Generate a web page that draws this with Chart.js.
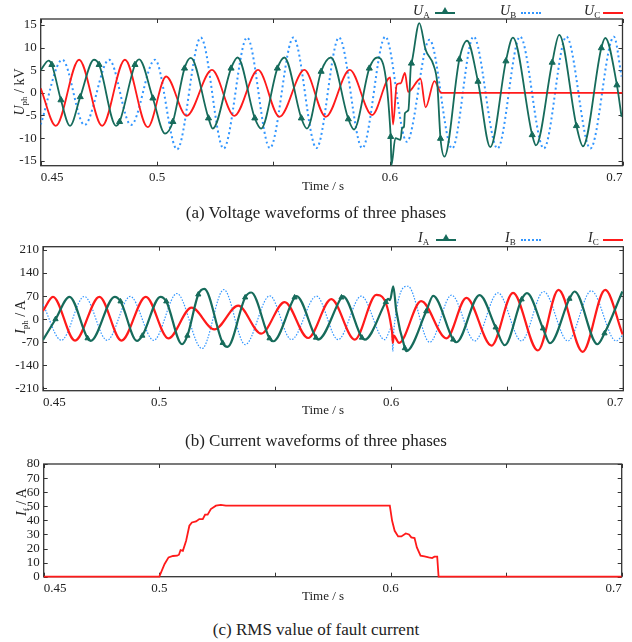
<!DOCTYPE html>
<html>
<head>
<meta charset="utf-8">
<script src="https://cdn.jsdelivr.net/npm/chart.js@4.4.1/dist/chart.umd.min.js"></script>
<style>
body{margin:0;background:#fff;}
#wrap{position:relative;width:632px;height:642px;font-family:'Liberation Serif','Times New Roman',serif;color:#222;overflow:hidden;}
canvas{position:absolute;left:0;}
.t{position:absolute;white-space:nowrap;line-height:16px;}
.t sub{font-size:9px;vertical-align:-3px;}
.cap{position:absolute;left:0;width:632px;text-align:center;font-size:17px;}
.yt{position:absolute;width:100px;height:16px;text-align:center;font-size:14px;line-height:16px;transform:rotate(-90deg);}
.yt sub{font-size:9px;vertical-align:-3px;}
.ln{position:absolute;height:0;}
.tri{position:absolute;width:0;height:0;border-left:4px solid transparent;border-right:4px solid transparent;border-bottom:7px solid #166b5b;}
</style>
</head>
<body>
<div id="wrap">
  <canvas id="ca" width="632" height="200" style="top:0"></canvas>
  <canvas id="cb" width="632" height="200" style="top:225px"></canvas>
  <canvas id="cc" width="632" height="160" style="top:450px"></canvas>

  <!-- legend (a) -->
  <div class="t" style="left:413px;top:3px;font-size:14px"><i>U</i><sub>A</sub></div>
  <div class="ln" style="left:435px;top:12px;width:20px;border-top:2px solid #166b5b"></div>
  <div class="tri" style="left:441px;top:7px"></div>
  <div class="t" style="left:500px;top:3px;font-size:14px"><i>U</i><sub>B</sub></div>
  <div class="ln" style="left:521px;top:12px;width:20px;border-top:2px dotted #3296ff"></div>
  <div class="t" style="left:584px;top:3px;font-size:14px"><i>U</i><sub>C</sub></div>
  <div class="ln" style="left:603px;top:12px;width:20px;border-top:2px solid #ff1a1a"></div>

  <!-- legend (b) -->
  <div class="t" style="left:418px;top:230px;font-size:14px"><i>I</i><sub>A</sub></div>
  <div class="ln" style="left:436px;top:239px;width:20px;border-top:2px solid #166b5b"></div>
  <div class="tri" style="left:442px;top:234px"></div>
  <div class="t" style="left:505px;top:230px;font-size:14px"><i>I</i><sub>B</sub></div>
  <div class="ln" style="left:521px;top:239px;width:20px;border-top:2px dotted #3296ff"></div>
  <div class="t" style="left:588px;top:230px;font-size:14px"><i>I</i><sub>C</sub></div>
  <div class="ln" style="left:603px;top:239px;width:20px;border-top:2px solid #ff1a1a"></div>

  <!-- axis titles -->
  <div class="yt" style="left:-30px;top:84px"><i>U</i><sub>ph</sub> / kV</div>
  <div class="yt" style="left:-29px;top:309px"><i>I</i><sub>ph</sub> / A</div>
  <div class="yt" style="left:-28px;top:494px"><i>I</i><sub>f</sub> / A</div>
  <div class="t" style="left:302px;top:178px;font-size:13px">Time / s</div>
  <div class="t" style="left:302px;top:402px;font-size:13px">Time / s</div>
  <div class="t" style="left:302px;top:588px;font-size:13px">Time / s</div>

  <!-- captions -->
  <div class="cap" style="top:203px">(a) Voltage waveforms of three phases</div>
  <div class="cap" style="top:431px">(b) Current waveforms of three phases</div>
  <div class="cap" style="top:620px">(c) RMS value of fault current</div>
</div>

<script>
// time axis
var xTickVals = [0.45, 0.5, 0.55, 0.6, 0.65, 0.7];
var xTickText = ['0.45', '0.5', '', '0.6', '', '0.7'];

// (a) phase voltages, kV
var uTicks = [-15, -10, -5, 0, 5, 10, 15];
var uaT = [0.4500,0.4534,0.4626,0.4729,0.4824,0.4923,0.5034,0.5145,0.5239,0.5346,0.5447,0.5547,0.5644,0.5747,0.5846,0.5946,0.6007,0.6024,0.6046,0.6053,0.6061,0.6065,0.6080,0.6091,0.6127,0.6154,0.6189,0.6204,0.6235,0.6332,0.6432,0.6529,0.6628,0.6728,0.6830,0.6926,0.6996];
var uaV = [5.0,7.1,-7.3,7.3,-7.3,7.4,-9.0,7.7,-7.9,7.8,-7.9,7.8,-7.9,7.8,-8.1,7.8,-16.0,-10.0,-10.4,-7.8,-7.5,-4.5,-3.8,6.2,15.4,9.5,6.0,2.1,-14.1,11.5,-12.0,12.2,-11.6,12.8,-11.8,12.1,-5.3];
var uaMkT = [0.4548,0.4587,0.4670,0.4751,0.4839,0.4905,0.4982,0.5068,0.5118,0.5221,0.5318,0.5420,0.5517,0.5620,0.5705,0.5822,0.5912,0.6004,0.6093,0.6218,0.6299,0.6379,0.6499,0.6612,0.6698,0.6802,0.6909,0.6976];
var uaMkV = [6.2,-1.6,-0.9,6.2,-6.4,6.2,-1.2,-6.4,5.4,-5.6,5.4,-5.6,5.4,-5.6,4.7,-5.8,5.4,-9.7,6.5,-10.1,7.4,2.5,7.0,-9.3,6.7,-7.3,9.9,1.7];
var ubT = [0.4500,0.4593,0.4688,0.4794,0.4888,0.4991,0.5086,0.5188,0.5286,0.5387,0.5485,0.5586,0.5685,0.5782,0.5882,0.5981,0.6073,0.6171,0.6268,0.6360,0.6463,0.6560,0.6662,0.6759,0.6862,0.6963,0.6996];
var ubV = [-7.0,7.3,-7.1,7.3,-7.1,7.3,-12.5,12.2,-12.3,12.2,-12.2,12.2,-12.2,12.2,-12.2,12.4,-10.8,11.7,-12.3,12.4,-12.3,12.4,-12.3,12.4,-12.3,12.4,3.6];
var ucT = [0.4500,0.4565,0.4665,0.4764,0.4862,0.4960,0.5039,0.5127,0.5236,0.5332,0.5434,0.5526,0.5633,0.5725,0.5828,0.5924,0.6002,0.6014,0.6030,0.6047,0.6065,0.6079,0.6132,0.6154,0.6192,0.6221,0.7000];
var ucV = [1.0,-7.3,7.3,-7.3,7.3,-7.6,3.6,-5.1,5.05,-5.1,5.05,-5.3,5.05,-5.3,5.05,-4.9,3.4,-7.0,1.8,2.1,4.4,0.2,3.1,-3.2,2.6,0,0];

// (b) phase currents, A
var iTicks = [-210, -140, -70, 0, 70, 140, 210];
var iaT = [0.4500,0.4614,0.4705,0.4809,0.4905,0.5006,0.5099,0.5195,0.5295,0.5397,0.5492,0.5592,0.5685,0.5792,0.5886,0.5986,0.5995,0.6009,0.6022,0.6065,0.6181,0.6281,0.6381,0.6489,0.6585,0.6684,0.6790,0.6889,0.6996];
var iaV = [-63,68,-66,68,-66,68,-76,92,-84,81,-67,70,-62,70,-62,62,58,100,25,-97,71,-70,73,-79,79,-73,84,-76,84];
var iaMkT = [0.4554,0.4692,0.4834,0.4928,0.5031,0.5122,0.5169,0.5274,0.5371,0.5476,0.5584,0.5676,0.5786,0.5874,0.5977,0.6059,0.6151,0.6267,0.6450,0.6562,0.6654,0.6768,0.6919];
var iaMkV = [0,-58,54,-50,54,-50,75,-72,66,-58,66,-56,66,-56,52,-88,24,-62,-25,60,-28,62,-43];
var ibT = [0.4500,0.4579,0.4678,0.4776,0.4876,0.4977,0.5077,0.5185,0.5279,0.5371,0.5477,0.5570,0.5678,0.5771,0.5871,0.5972,0.6003,0.6007,0.6011,0.6072,0.6166,0.6260,0.6360,0.6460,0.6561,0.6657,0.6761,0.6862,0.6969,0.6996];
var ibV = [45,-64,69,-64,69,-64,78,-89,90,-77,71,-62,70,-62,70,-62,-25,-97,-35,100,-70,73,-66,80,-66,84,-66,86,-66,-50];
var icT = [0.4500,0.4543,0.4638,0.4743,0.4838,0.4943,0.5040,0.5140,0.5238,0.5341,0.5440,0.5541,0.5642,0.5742,0.5843,0.5936,0.6004,0.6007,0.6011,0.6034,0.6129,0.6238,0.6324,0.6432,0.6525,0.6632,0.6721,0.6825,0.6922,0.6997];
var icV = [25,68,-65,68,-65,68,-58,35,-31,41,-44,52,-57,61,-62,74,-40,-72,-50,-72,55,-58,65,-80,80,-95,89,-99,89,-46];

// (c) RMS fault current, A
var fTicks = [0, 10, 20, 30, 40, 50, 60, 70, 80];
var ifT = [0.4500,0.5000,0.5023,0.5040,0.5059,0.5077,0.5085,0.5092,0.5102,0.5116,0.5130,0.5141,0.5159,0.5173,0.5188,0.5198,0.5209,0.5223,0.5245,0.5266,0.5288,0.5997,0.6007,0.6018,0.6033,0.6047,0.6066,0.6080,0.6090,0.6104,0.6114,0.6130,0.6147,0.6165,0.6180,0.6190,0.6202,0.6208,0.7000];
var ifV = [0,0,9.0,13.7,14.7,14.9,15.6,18.9,18.4,25.5,36.2,38.5,39.2,40.9,40.9,44.0,44.0,48.0,50.4,51.0,50.4,50.4,39.7,32.6,28.6,28.6,30.7,30.0,27.9,27.4,20.8,14.9,14.4,13.7,13.2,14.2,14.2,0,0];

var GREEN = '#166b5b', BLUE = '#3296ff', RED = '#ff1a1a';

function pts(ts, vs, mts, mvs) {
  var out = [];
  for (var i = 0; i < ts.length; i++) out.push({x: ts[i], y: vs[i], m: 0});
  if (mts) for (var j = 0; j < mts.length; j++) out.push({x: mts[j], y: mvs[j], m: 1});
  out.sort(function(a, b){ return a.x - b.x; });
  return out;
}

// box round the plot and small ticks pointing inwards on all four sides
// drawn under the curves so a trace lying on the axis stays visible
var frame = {
  id: 'frame',
  beforeDatasetsDraw: function(chart) {
    var a = chart.chartArea, c = chart.ctx, xs = chart.scales.x, ys = chart.scales.y;
    c.save();
    c.strokeStyle = '#333';
    c.lineWidth = 1;
    c.beginPath();
    xs.ticks.forEach(function(t){
      var p = Math.round(xs.getPixelForValue(t.value)) + 0.5;
      c.moveTo(p, a.bottom); c.lineTo(p, a.bottom - 4);
      c.moveTo(p, a.top); c.lineTo(p, a.top + 4);
    });
    ys.ticks.forEach(function(t){
      var p = Math.round(ys.getPixelForValue(t.value)) + 0.5;
      c.moveTo(a.left, p); c.lineTo(a.left + 4, p);
      c.moveTo(a.right, p); c.lineTo(a.right - 4, p);
    });
    c.stroke();
    c.lineWidth = 1.3;
    c.strokeRect(a.left, a.top, a.width, a.height);
    c.restore();
  }
};

var tickFont = {family: 'Liberation Serif', size: 13};

function makeChart(id, sets, o) {
  return new Chart(document.getElementById(id), {
    type: 'line',
    data: {datasets: sets},
    options: {
      responsive: false,
      animation: false,
      events: [],
      layout: {padding: {top: o.top, right: o.right, left: 0, bottom: 0}},
      plugins: {legend: {display: false}, tooltip: {enabled: false}},
      elements: {line: {cubicInterpolationMode: 'monotone'}},
      scales: {
        x: {
          type: 'linear', min: 0.45, max: 0.7,
          grid: {display: false, drawTicks: false}, border: {display: false},
          ticks: {autoSkip: false, maxRotation: 0, align: 'inner', padding: 4, color: '#222', font: tickFont,
            callback: function(v, i){ return xTickText[i]; }},
          afterBuildTicks: function(s){ s.ticks = xTickVals.map(function(v){ return {value: v}; }); },
          afterFit: function(s){ s.height = o.bottom; }
        },
        y: {
          min: o.min, max: o.max,
          grid: {display: false, drawTicks: false}, border: {display: false},
          ticks: {autoSkip: false, padding: 4, color: '#222', font: tickFont,
            callback: function(v){ return String(v); }},
          afterBuildTicks: function(s){ s.ticks = o.ticks.map(function(v){ return {value: v}; }); },
          afterFit: function(s){ s.width = o.left; }
        }
      }
    },
    plugins: [frame]
  });
}

function markR(r) {
  return function(ctx){ return ctx.raw && ctx.raw.m ? r : 0; };
}

makeChart('ca', [
  {data: pts(uaT, uaV, uaMkT, uaMkV), borderColor: GREEN, borderWidth: 1.8, pointStyle: 'triangle',
   pointRadius: markR(3.5), pointBackgroundColor: GREEN, pointBorderColor: GREEN, pointBorderWidth: 1},
  {data: pts(ucT, ucV), borderColor: RED, borderWidth: 1.8, pointRadius: 0},
  {data: pts(ubT, ubV), borderColor: BLUE, borderWidth: 2, borderDash: [2, 3], pointRadius: 0}
], {top: 19, right: 9.5, left: 40.7, bottom: 34.3, min: -16.1, max: 16.3, ticks: uTicks});

makeChart('cb', [
  {data: pts(iaT, iaV, iaMkT, iaMkV), borderColor: GREEN, borderWidth: 2.2, pointStyle: 'triangle',
   pointRadius: markR(3), pointBackgroundColor: GREEN, pointBorderColor: GREEN, pointBorderWidth: 1},
  {data: pts(icT, icV), borderColor: RED, borderWidth: 2.2, pointRadius: 0},
  {data: pts(ibT, ibV), borderColor: BLUE, borderWidth: 1.2, borderDash: [1.5, 1.5], pointRadius: 0}
], {top: 21.7, right: 8.7, left: 43, bottom: 34.3, min: -217, max: 220, ticks: iTicks});

makeChart('cc', [
  {data: pts(ifT, ifV), borderColor: RED, borderWidth: 1.8, pointRadius: 0,
   cubicInterpolationMode: 'default', tension: 0, clip: {left: 0, top: 0, right: 0, bottom: 3}}
], {top: 14, right: 10.3, left: 43.7, bottom: 33.3, min: 0, max: 80, ticks: fTicks});
</script>
</body>
</html>
